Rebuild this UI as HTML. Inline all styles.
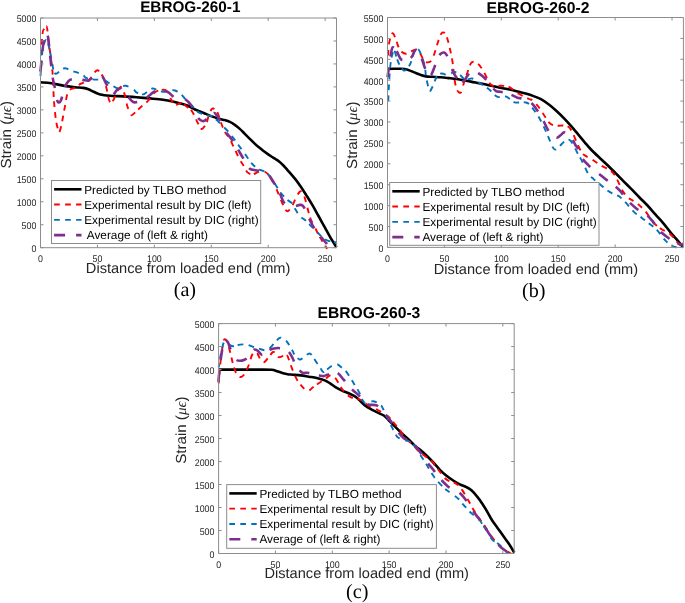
<!DOCTYPE html>
<html><head><meta charset="utf-8"><style>html,body{margin:0;padding:0;background:#fff;}svg{display:block;will-change:transform;text-rendering:geometricPrecision;}</style></head>
<body><svg width="685" height="603" viewBox="0 0 685 603">
<rect width="685" height="603" fill="#fff"/>
<clipPath id="clipa"><rect x="38.5" y="18.0" width="300.0" height="232.7"/></clipPath>
<g clip-path="url(#clipa)" fill="none" stroke-linejoin="round">
<path id="ak" d="M40.70,82.30 C42.47,82.45 47.33,82.60 51.30,83.20 C55.27,83.80 60.53,85.23 64.50,85.90 C68.47,86.57 72.00,86.87 75.10,87.20 C78.20,87.53 80.88,87.57 83.10,87.90 C85.32,88.23 86.63,88.55 88.40,89.20 C90.17,89.85 91.72,90.92 93.70,91.80 C95.68,92.68 97.58,93.83 100.30,94.50 C103.02,95.17 106.17,95.48 110.00,95.80 C113.83,96.12 118.88,96.15 123.30,96.40 C127.72,96.65 132.08,96.97 136.50,97.30 C140.92,97.63 145.38,98.00 149.80,98.40 C154.22,98.80 159.02,99.15 163.00,99.70 C166.98,100.25 170.60,101.03 173.70,101.70 C176.80,102.37 179.22,103.02 181.60,103.70 C183.98,104.38 185.77,104.83 188.00,105.80 C190.23,106.77 193.00,108.57 195.00,109.50 C197.00,110.43 198.17,110.67 200.00,111.40 C201.83,112.13 204.02,113.07 206.00,113.90 C207.98,114.73 209.92,115.65 211.90,116.40 C213.88,117.15 215.90,117.82 217.90,118.40 C219.90,118.98 221.90,119.32 223.90,119.90 C225.90,120.48 228.08,121.07 229.90,121.90 C231.72,122.73 233.15,123.73 234.80,124.90 C236.45,126.07 238.13,127.42 239.80,128.90 C241.47,130.38 243.13,132.15 244.80,133.80 C246.47,135.45 248.15,137.17 249.80,138.80 C251.45,140.43 253.08,142.10 254.70,143.60 C256.32,145.10 258.03,146.57 259.50,147.80 C260.97,149.03 262.17,149.98 263.50,151.00 C264.83,152.02 266.18,152.98 267.50,153.90 C268.82,154.82 270.08,155.65 271.40,156.50 C272.72,157.35 274.07,158.12 275.40,159.00 C276.73,159.88 278.07,160.72 279.40,161.80 C280.73,162.88 282.08,164.17 283.40,165.50 C284.72,166.83 285.32,167.53 287.30,169.80 C289.28,172.07 293.02,176.23 295.30,179.10 C297.58,181.97 299.20,184.37 301.00,187.00 C302.80,189.63 304.22,191.92 306.10,194.90 C307.98,197.88 310.23,201.38 312.30,204.90 C314.37,208.42 316.43,212.28 318.50,216.00 C320.57,219.72 322.63,223.47 324.70,227.20 C326.77,230.93 328.92,235.05 330.90,238.40 C332.88,241.75 335.65,245.82 336.60,247.30" stroke="#000000" stroke-width="2.60"/>
<path id="ar" d="M40.60,60.00 C40.92,55.65 41.93,39.07 42.50,33.90 C43.07,28.73 43.33,30.25 44.00,29.00 C44.67,27.75 45.92,26.07 46.50,26.40 C47.08,26.73 47.08,27.90 47.50,31.00 C47.92,34.10 48.52,41.20 49.00,45.00 C49.48,48.80 49.90,50.02 50.40,53.80 C50.90,57.58 51.60,64.00 52.00,67.70 C52.40,71.40 52.48,70.65 52.80,76.00 C53.12,81.35 53.38,92.52 53.90,99.80 C54.42,107.08 55.23,114.83 55.90,119.70 C56.57,124.57 57.35,126.90 57.90,129.00 C58.45,131.10 58.65,132.75 59.20,132.30 C59.75,131.85 60.53,129.07 61.20,126.30 C61.87,123.53 62.53,119.23 63.20,115.70 C63.87,112.17 64.53,108.63 65.20,105.10 C65.87,101.57 66.32,97.12 67.20,94.50 C68.08,91.88 69.28,90.50 70.50,89.40 C71.72,88.30 72.83,88.82 74.50,87.90 C76.17,86.98 77.97,85.35 80.50,83.90 C83.03,82.45 87.50,80.97 89.70,79.20 C91.90,77.43 92.37,74.78 93.70,73.30 C95.03,71.82 96.37,70.08 97.70,70.30 C99.03,70.52 100.60,73.00 101.70,74.60 C102.80,76.20 103.42,77.25 104.30,79.90 C105.18,82.55 106.22,87.18 107.00,90.50 C107.78,93.82 108.33,97.80 109.00,99.80 C109.67,101.80 110.23,102.50 111.00,102.50 C111.77,102.50 112.72,101.35 113.60,99.80 C114.48,98.25 115.35,95.08 116.30,93.20 C117.25,91.32 118.47,89.52 119.30,88.50 C120.13,87.48 120.42,86.12 121.30,87.10 C122.18,88.08 123.62,91.30 124.60,94.40 C125.58,97.50 126.20,102.48 127.20,105.70 C128.20,108.92 129.72,112.20 130.60,113.70 C131.48,115.20 130.97,115.65 132.50,114.70 C134.03,113.75 137.25,110.27 139.80,108.00 C142.35,105.73 145.25,103.73 147.80,101.10 C150.35,98.47 152.57,94.08 155.10,92.20 C157.63,90.32 161.02,89.98 163.00,89.80 C164.98,89.62 165.67,89.55 167.00,91.10 C168.33,92.65 169.67,96.78 171.00,99.10 C172.33,101.42 173.67,104.27 175.00,105.00 C176.33,105.73 177.83,103.83 179.00,103.50 C180.17,103.17 180.83,102.58 182.00,103.00 C183.17,103.42 184.35,104.65 186.00,106.00 C187.65,107.35 190.25,108.92 191.90,111.10 C193.55,113.28 194.78,116.88 195.90,119.10 C197.02,121.32 197.60,122.75 198.60,124.40 C199.60,126.05 200.58,129.23 201.90,129.00 C203.22,128.77 205.40,125.10 206.50,123.00 C207.60,120.90 207.72,118.60 208.50,116.40 C209.28,114.20 210.42,111.12 211.20,109.80 C211.98,108.48 212.32,108.38 213.20,108.50 C214.08,108.62 215.62,109.40 216.50,110.50 C217.38,111.60 217.73,113.02 218.50,115.10 C219.27,117.18 220.00,120.13 221.10,123.00 C222.20,125.87 223.77,129.87 225.10,132.30 C226.43,134.73 227.88,135.60 229.10,137.60 C230.32,139.60 231.30,142.03 232.40,144.30 C233.50,146.57 234.50,148.72 235.70,151.20 C236.90,153.68 238.28,156.77 239.60,159.20 C240.92,161.63 242.28,163.60 243.60,165.80 C244.92,168.00 245.95,170.97 247.50,172.40 C249.05,173.83 251.15,174.47 252.90,174.40 C254.65,174.33 256.23,172.55 258.00,172.00 C259.77,171.45 261.70,170.58 263.50,171.10 C265.30,171.62 267.27,173.33 268.80,175.10 C270.33,176.87 271.38,179.27 272.70,181.70 C274.02,184.13 275.40,186.82 276.70,189.70 C278.00,192.58 279.13,195.85 280.50,199.00 C281.87,202.15 283.65,206.58 284.90,208.60 C286.15,210.62 286.75,211.62 288.00,211.10 C289.25,210.58 291.05,207.78 292.40,205.50 C293.75,203.22 294.92,199.65 296.10,197.40 C297.28,195.15 298.60,192.98 299.50,192.00 C300.40,191.02 300.72,190.82 301.50,191.50 C302.28,192.18 303.33,193.87 304.20,196.10 C305.07,198.33 305.97,202.20 306.70,204.90 C307.43,207.60 307.88,209.82 308.60,212.30 C309.32,214.78 309.97,217.32 311.00,219.80 C312.03,222.28 313.55,224.72 314.80,227.20 C316.05,229.68 317.27,232.42 318.50,234.70 C319.73,236.98 320.95,238.83 322.20,240.90 C323.45,242.97 325.20,245.75 326.00,247.10 C326.80,248.45 326.83,248.68 327.00,249.00" stroke="#ff0000" stroke-width="1.90" stroke-dasharray="5.7 5.0 5.7 5.0 5.7 3.0 5.7 5.3 5.7 5.3 5.7 5.1 5.7 5.1 5.7 5.2 5.7 5.5 5.7 4.3 5.7 5.1 5.7 5.1 5.7 5.1 5.7 5.1 5.7 5.1 5.7 5.1 5.7 5.3 5.7 4.7 5.7 3.5 5.7 5.7 5.7 3.9 5.7 6.7 5.7 5.2 5.7 3.2 5.7 5.9 5.7 5.9 5.7 5.4 5.7 6.3 5.7 4.0 5.7 5.1 5.7 5.6 5.7 3.5 5.7 7.5 5.7 4.3 5.7 3.0 5.7 3.0 5.7 5.0 5.7 4.6 5.7 4.2 5.7 5.7 5.7 4.3 5.7 5.1 5.7 4.7 5.7 5.5 5.7 4.9 5.7 5.8 5.7 5.1 5.7 3.6 5.7 5.7 5.7 3.0 5.7 7.3 5.7 5.7 5.7 5.0 5.7 5.2 5.7 6.0 5.7 5.6 5.7 5.8 5.7 4.6 5.7 6.5 5.7 3.6 5.7 5.0 5.7 1000.0" stroke-dashoffset="-4.65"/>
<path id="ab" d="M40.50,76.00 C40.75,72.47 41.42,60.15 42.00,54.80 C42.58,49.45 43.33,46.38 44.00,43.90 C44.67,41.42 45.33,40.07 46.00,39.90 C46.67,39.73 47.33,40.92 48.00,42.90 C48.67,44.88 49.33,48.65 50.00,51.80 C50.67,54.95 51.43,58.82 52.00,61.80 C52.57,64.78 52.83,67.72 53.40,69.70 C53.97,71.68 54.65,73.20 55.40,73.70 C56.15,74.20 56.98,73.37 57.90,72.70 C58.82,72.03 59.73,70.45 60.90,69.70 C62.07,68.95 63.73,68.28 64.90,68.20 C66.07,68.12 66.58,68.70 67.90,69.20 C69.22,69.70 71.15,70.62 72.80,71.20 C74.45,71.78 76.13,72.12 77.80,72.70 C79.47,73.28 81.47,73.83 82.80,74.70 C84.13,75.57 84.43,77.15 85.80,77.90 C87.17,78.65 89.02,78.92 91.00,79.20 C92.98,79.48 95.87,79.63 97.70,79.60 C99.53,79.57 100.23,78.50 102.00,79.00 C103.77,79.50 106.52,81.47 108.30,82.60 C110.08,83.73 111.08,84.82 112.70,85.80 C114.32,86.78 116.62,88.30 118.00,88.50 C119.38,88.70 119.68,87.45 121.00,87.00 C122.32,86.55 123.75,85.33 125.90,85.80 C128.05,86.27 132.13,88.70 133.90,89.80 C135.67,90.90 134.95,91.63 136.50,92.40 C138.05,93.17 141.28,94.63 143.20,94.40 C145.12,94.17 146.47,91.98 148.00,91.00 C149.53,90.02 151.22,88.82 152.40,88.50 C153.58,88.18 153.33,88.55 155.10,89.10 C156.87,89.65 160.57,91.57 163.00,91.80 C165.43,92.03 167.70,90.72 169.70,90.50 C171.70,90.28 173.07,89.83 175.00,90.50 C176.93,91.17 179.37,92.83 181.30,94.50 C183.23,96.17 184.60,98.40 186.60,100.50 C188.60,102.60 191.30,105.12 193.30,107.10 C195.30,109.08 196.40,111.07 198.60,112.40 C200.80,113.73 204.30,114.43 206.50,115.10 C208.70,115.77 210.03,115.52 211.80,116.40 C213.57,117.28 215.33,118.85 217.10,120.40 C218.87,121.95 220.63,123.93 222.40,125.70 C224.17,127.47 225.93,129.02 227.70,131.00 C229.47,132.98 231.22,135.27 233.00,137.60 C234.78,139.93 236.42,142.28 238.40,145.00 C240.38,147.72 242.72,150.87 244.90,153.90 C247.08,156.93 249.28,160.67 251.50,163.20 C253.72,165.73 256.20,167.78 258.20,169.10 C260.20,170.42 261.73,170.10 263.50,171.10 C265.27,172.10 266.82,172.88 268.80,175.10 C270.78,177.32 273.53,181.58 275.40,184.40 C277.27,187.22 278.00,189.42 280.00,192.00 C282.00,194.58 285.33,197.97 287.40,199.90 C289.47,201.83 291.15,202.15 292.40,203.60 C293.65,205.05 293.65,206.53 294.90,208.60 C296.15,210.67 298.03,213.93 299.90,216.00 C301.77,218.07 304.25,219.33 306.10,221.00 C307.95,222.67 309.13,224.13 311.00,226.00 C312.87,227.87 315.43,230.33 317.30,232.20 C319.17,234.07 320.33,235.75 322.20,237.20 C324.07,238.65 326.12,240.02 328.50,240.90 C330.88,241.78 335.17,242.23 336.50,242.50" stroke="#0072bd" stroke-width="1.90" stroke-dasharray="5.7 5.1 5.7 5.1 5.7 5.1 5.7 4.0 5.7 3.4 5.7 5.9 5.7 3.6 5.7 4.9 5.7 5.3 5.7 5.4 5.7 4.4 5.7 6.8 5.7 5.1 5.7 5.0 5.7 6.0 5.7 3.8 5.7 5.3 5.7 4.5 5.7 6.0 5.7 5.1 5.7 6.1 5.7 5.0 5.7 5.0 5.7 4.3 5.7 5.9 5.7 5.8 5.7 5.0 5.7 5.8 5.7 5.0 5.7 4.5 5.7 4.6 5.7 5.7 5.7 5.0 5.7 4.9 5.7 5.6 5.7 5.6 5.7 4.6 5.7 6.2 5.7 4.4 5.7 3.5 5.7 1000.0" stroke-dashoffset="0.85"/>
<path id="ap" d="M40.40,72.00 C40.57,70.30 40.97,66.13 41.40,61.80 C41.83,57.47 42.57,49.55 43.00,46.00 C43.43,42.45 43.62,42.03 44.00,40.50 C44.38,38.97 44.80,37.73 45.30,36.80 C45.80,35.87 46.55,34.87 47.00,34.90 C47.45,34.93 47.67,35.33 48.00,37.00 C48.33,38.67 48.57,41.07 49.00,44.90 C49.43,48.73 50.00,54.62 50.60,60.00 C51.20,65.38 51.93,72.78 52.60,77.20 C53.27,81.62 53.93,82.95 54.60,86.50 C55.27,90.05 55.93,95.83 56.60,98.50 C57.27,101.17 57.83,102.28 58.60,102.50 C59.37,102.72 60.22,102.23 61.20,99.80 C62.18,97.37 63.28,91.00 64.50,87.90 C65.72,84.80 67.17,82.65 68.50,81.20 C69.83,79.75 70.92,79.57 72.50,79.20 C74.08,78.83 76.23,78.88 78.00,79.00 C79.77,79.12 81.37,79.63 83.10,79.90 C84.83,80.17 87.08,80.82 88.40,80.60 C89.72,80.38 89.73,79.53 91.00,78.60 C92.27,77.67 94.22,75.45 96.00,75.00 C97.78,74.55 100.32,75.08 101.70,75.90 C103.08,76.72 103.42,78.35 104.30,79.90 C105.18,81.45 105.67,82.77 107.00,85.20 C108.33,87.63 110.63,93.70 112.30,94.50 C113.97,95.30 115.62,91.05 117.00,90.00 C118.38,88.95 119.43,87.87 120.60,88.20 C121.77,88.53 122.67,90.52 124.00,92.00 C125.33,93.48 127.40,95.70 128.60,97.10 C129.80,98.50 130.22,99.52 131.20,100.40 C132.18,101.28 133.03,102.30 134.50,102.40 C135.97,102.50 138.00,101.78 140.00,101.00 C142.00,100.22 144.83,98.70 146.50,97.70 C148.17,96.70 148.78,95.98 150.00,95.00 C151.22,94.02 152.47,92.55 153.80,91.80 C155.13,91.05 156.47,90.72 158.00,90.50 C159.53,90.28 161.27,90.18 163.00,90.50 C164.73,90.82 166.85,91.52 168.40,92.40 C169.95,93.28 171.03,94.70 172.30,95.80 C173.57,96.90 174.72,98.47 176.00,99.00 C177.28,99.53 178.67,99.08 180.00,99.00 C181.33,98.92 182.23,97.58 184.00,98.50 C185.77,99.42 188.40,101.52 190.60,104.50 C192.80,107.48 195.65,113.87 197.20,116.40 C198.75,118.93 198.78,118.92 199.90,119.70 C201.02,120.48 202.55,121.38 203.90,121.10 C205.25,120.82 206.35,119.33 208.00,118.00 C209.65,116.67 212.28,113.47 213.80,113.10 C215.32,112.73 216.10,114.58 217.10,115.80 C218.10,117.02 218.47,117.87 219.80,120.40 C221.13,122.93 223.33,128.13 225.10,131.00 C226.87,133.87 228.75,135.43 230.40,137.60 C232.05,139.77 233.68,141.95 235.00,144.00 C236.32,146.05 237.10,147.82 238.30,149.90 C239.50,151.98 240.43,153.52 242.20,156.50 C243.97,159.48 247.12,165.58 248.90,167.80 C250.68,170.02 251.58,169.35 252.90,169.80 C254.22,170.25 255.28,170.22 256.80,170.50 C258.32,170.78 260.00,170.73 262.00,171.50 C264.00,172.27 266.78,173.17 268.80,175.10 C270.82,177.03 272.33,180.23 274.10,183.10 C275.87,185.97 277.85,189.22 279.40,192.30 C280.95,195.38 281.97,199.40 283.40,201.60 C284.83,203.80 286.08,204.75 288.00,205.50 C289.92,206.25 292.92,206.20 294.90,206.10 C296.88,206.00 298.45,204.80 299.90,204.90 C301.35,205.00 302.15,204.63 303.60,206.70 C305.05,208.77 307.15,214.28 308.60,217.30 C310.05,220.32 310.90,222.35 312.30,224.80 C313.70,227.25 315.35,229.73 317.00,232.00 C318.65,234.27 320.70,236.60 322.20,238.40 C323.70,240.20 325.20,241.87 326.00,242.80 C326.80,243.73 326.83,243.80 327.00,244.00" stroke="#7e2f8e" stroke-width="2.60" stroke-dasharray="10.8 9.8 10.8 7.6 10.8 9.1 10.8 11.3 10.8 11.6 10.8 10.0 10.8 10.5 10.8 11.5 10.8 11.2 10.8 10.8 10.8 10.4 10.8 9.5 10.8 13.1 10.8 11.7 10.8 8.9 10.8 13.0 10.8 10.0 10.8 10.6 10.8 11.2 10.8 10.2 10.8 11.9 10.8 11.0 10.8 10.7 10.8 1000.0" stroke-dashoffset="-0.50"/>
</g>
<g stroke="#8d8d8d" stroke-width="1" fill="none">
<path d="M40.5,18.0 H336.5 V247.7 H40.5 Z"/>
<path d="M40.50,247.7 v-3 M40.50,18.0 v3"/>
<path d="M97.42,247.7 v-3 M97.42,18.0 v3"/>
<path d="M154.35,247.7 v-3 M154.35,18.0 v3"/>
<path d="M211.27,247.7 v-3 M211.27,18.0 v3"/>
<path d="M268.19,247.7 v-3 M268.19,18.0 v3"/>
<path d="M325.12,247.7 v-3 M325.12,18.0 v3"/>
<path d="M40.5,247.70 h3 M336.5,247.70 h-3"/>
<path d="M40.5,224.73 h3 M336.5,224.73 h-3"/>
<path d="M40.5,201.76 h3 M336.5,201.76 h-3"/>
<path d="M40.5,178.79 h3 M336.5,178.79 h-3"/>
<path d="M40.5,155.82 h3 M336.5,155.82 h-3"/>
<path d="M40.5,132.85 h3 M336.5,132.85 h-3"/>
<path d="M40.5,109.88 h3 M336.5,109.88 h-3"/>
<path d="M40.5,86.91 h3 M336.5,86.91 h-3"/>
<path d="M40.5,63.94 h3 M336.5,63.94 h-3"/>
<path d="M40.5,40.97 h3 M336.5,40.97 h-3"/>
<path d="M40.5,18.00 h3 M336.5,18.00 h-3"/>
</g>
<g font-family="Liberation Sans, sans-serif" font-size="9.7" fill="#262626">
<text transform="translate(40.50,262.10) scale(0.91,1)" text-anchor="middle">0</text>
<text transform="translate(97.42,262.10) scale(0.91,1)" text-anchor="middle">50</text>
<text transform="translate(154.35,262.10) scale(0.91,1)" text-anchor="middle">100</text>
<text transform="translate(211.27,262.10) scale(0.91,1)" text-anchor="middle">150</text>
<text transform="translate(268.19,262.10) scale(0.91,1)" text-anchor="middle">200</text>
<text transform="translate(325.12,262.10) scale(0.91,1)" text-anchor="middle">250</text>
<text transform="translate(36.30,252.00) scale(0.91,1)" text-anchor="end">0</text>
<text transform="translate(36.30,229.03) scale(0.91,1)" text-anchor="end">500</text>
<text transform="translate(36.30,206.06) scale(0.91,1)" text-anchor="end">1000</text>
<text transform="translate(36.30,183.09) scale(0.91,1)" text-anchor="end">1500</text>
<text transform="translate(36.30,160.12) scale(0.91,1)" text-anchor="end">2000</text>
<text transform="translate(36.30,137.15) scale(0.91,1)" text-anchor="end">2500</text>
<text transform="translate(36.30,114.18) scale(0.91,1)" text-anchor="end">3000</text>
<text transform="translate(36.30,91.21) scale(0.91,1)" text-anchor="end">3500</text>
<text transform="translate(36.30,68.24) scale(0.91,1)" text-anchor="end">4000</text>
<text transform="translate(36.30,45.27) scale(0.91,1)" text-anchor="end">4500</text>
<text transform="translate(36.30,22.30) scale(0.91,1)" text-anchor="end">5000</text>
</g>
<text x="190.3" y="11.7" font-family="Liberation Sans, sans-serif" font-size="15.3" font-weight="bold" text-anchor="middle" fill="#000">EBROG-260-1</text>
<text x="188.1" y="273.4" font-family="Liberation Sans, sans-serif" font-size="14.5" text-anchor="middle" fill="#262626" textLength="204.5" lengthAdjust="spacingAndGlyphs">Distance from loaded end (mm)</text>
<text transform="translate(11.2,134.8) rotate(-90)" font-family="Liberation Sans, sans-serif" font-size="14.6" text-anchor="middle" fill="#262626" textLength="67.5" lengthAdjust="spacingAndGlyphs">Strain (<tspan font-family="Liberation Serif, serif" font-style="italic">μϵ</tspan>)</text>
<text x="184.9" y="295.7" font-family="Liberation Serif, serif" font-size="20.2" text-anchor="middle" fill="#000">(a)</text>
<clipPath id="clipb"><rect x="385.5" y="17.5" width="299.9" height="232.9"/></clipPath>
<g clip-path="url(#clipb)" fill="none" stroke-linejoin="round">
<path id="bk" d="M387.80,69.10 C388.67,69.05 390.82,68.85 393.00,68.80 C395.18,68.75 398.48,68.65 400.90,68.80 C403.32,68.95 405.28,69.10 407.50,69.70 C409.72,70.30 411.98,71.52 414.20,72.40 C416.42,73.28 418.82,74.33 420.80,75.00 C422.78,75.67 424.12,76.10 426.10,76.40 C428.08,76.70 430.27,76.65 432.70,76.80 C435.13,76.95 438.03,77.08 440.70,77.30 C443.37,77.52 446.05,77.82 448.70,78.10 C451.35,78.38 454.22,78.65 456.60,79.00 C458.98,79.35 460.62,79.77 463.00,80.20 C465.38,80.63 468.25,81.10 470.90,81.60 C473.55,82.10 476.25,82.68 478.90,83.20 C481.55,83.72 484.15,84.15 486.80,84.70 C489.45,85.25 492.15,85.92 494.80,86.50 C497.45,87.08 500.05,87.65 502.70,88.20 C505.35,88.75 508.03,89.20 510.70,89.80 C513.37,90.40 516.05,91.13 518.70,91.80 C521.35,92.47 524.22,93.12 526.60,93.80 C528.98,94.48 530.62,95.00 533.00,95.90 C535.38,96.80 538.25,97.77 540.90,99.20 C543.55,100.63 546.25,102.50 548.90,104.50 C551.55,106.50 554.15,108.77 556.80,111.20 C559.45,113.63 562.37,116.57 564.80,119.10 C567.23,121.63 569.18,123.85 571.40,126.40 C573.62,128.95 575.88,131.75 578.10,134.40 C580.32,137.05 582.55,139.78 584.70,142.30 C586.85,144.82 588.62,147.00 591.00,149.50 C593.38,152.00 596.37,154.80 599.00,157.30 C601.63,159.80 604.17,161.98 606.80,164.50 C609.43,167.02 612.15,169.75 614.80,172.40 C617.45,175.05 620.05,177.73 622.70,180.40 C625.35,183.07 627.90,185.55 630.70,188.40 C633.50,191.25 636.70,194.65 639.50,197.50 C642.30,200.35 644.78,202.60 647.50,205.50 C650.22,208.40 653.08,211.85 655.80,214.90 C658.52,217.95 661.15,220.65 663.80,223.80 C666.45,226.95 669.38,230.98 671.70,233.80 C674.02,236.62 675.85,238.50 677.70,240.70 C679.55,242.90 681.95,245.95 682.80,247.00" stroke="#000000" stroke-width="2.60"/>
<path id="br" d="M388.00,55.50 C388.17,53.58 388.50,47.27 389.00,44.00 C389.50,40.73 390.33,37.68 391.00,35.90 C391.67,34.12 392.23,32.85 393.00,33.30 C393.77,33.75 394.72,36.40 395.60,38.60 C396.48,40.80 397.30,44.30 398.30,46.50 C399.30,48.70 400.28,50.58 401.60,51.80 C402.92,53.02 404.55,53.90 406.20,53.80 C407.85,53.70 409.95,51.87 411.50,51.20 C413.05,50.53 414.42,49.83 415.50,49.80 C416.58,49.77 417.12,50.22 418.00,51.00 C418.88,51.78 419.78,52.82 420.80,54.50 C421.82,56.18 423.00,59.78 424.10,61.10 C425.20,62.42 426.28,62.40 427.40,62.40 C428.52,62.40 429.68,62.42 430.80,61.10 C431.92,59.78 433.00,57.37 434.10,54.50 C435.20,51.63 436.30,47.22 437.40,43.90 C438.50,40.58 439.60,36.48 440.70,34.60 C441.80,32.72 442.90,31.93 444.00,32.60 C445.10,33.27 446.30,35.83 447.30,38.60 C448.30,41.37 449.12,45.23 450.00,49.20 C450.88,53.17 451.83,57.32 452.60,62.40 C453.37,67.48 453.93,75.27 454.60,79.70 C455.27,84.13 455.87,86.88 456.60,89.00 C457.33,91.12 458.22,91.90 459.00,92.40 C459.78,92.90 460.63,93.10 461.30,92.00 C461.97,90.90 462.28,88.15 463.00,85.80 C463.72,83.45 464.72,80.55 465.60,77.90 C466.48,75.25 467.42,72.33 468.30,69.90 C469.18,67.47 470.02,64.67 470.90,63.30 C471.78,61.93 472.50,61.70 473.60,61.70 C474.70,61.70 476.28,62.38 477.50,63.30 C478.72,64.22 479.78,65.67 480.90,67.20 C482.02,68.73 483.10,70.50 484.20,72.50 C485.30,74.50 486.40,77.20 487.50,79.20 C488.60,81.20 489.58,83.28 490.80,84.50 C492.02,85.72 493.25,86.28 494.80,86.50 C496.35,86.72 498.40,85.88 500.10,85.80 C501.80,85.72 503.45,85.78 505.00,86.00 C506.55,86.22 508.00,86.47 509.40,87.10 C510.80,87.73 511.85,88.68 513.40,89.80 C514.95,90.92 516.93,92.70 518.70,93.80 C520.47,94.90 522.28,95.53 524.00,96.40 C525.72,97.27 527.50,98.32 529.00,99.00 C530.50,99.68 531.45,99.25 533.00,100.50 C534.55,101.75 536.53,104.17 538.30,106.50 C540.07,108.83 541.83,111.85 543.60,114.50 C545.37,117.15 547.35,120.63 548.90,122.40 C550.45,124.17 551.35,124.53 552.90,125.10 C554.45,125.67 556.52,125.73 558.20,125.80 C559.88,125.87 561.23,125.28 563.00,125.50 C564.77,125.72 567.18,125.83 568.80,127.10 C570.42,128.37 571.38,130.57 572.70,133.10 C574.02,135.63 575.48,139.57 576.70,142.30 C577.92,145.03 579.03,147.63 580.00,149.50 C580.97,151.37 581.57,152.43 582.50,153.50 C583.43,154.57 583.75,154.73 585.60,155.90 C587.45,157.07 590.95,158.85 593.60,160.50 C596.25,162.15 598.85,164.25 601.50,165.80 C604.15,167.35 607.28,168.25 609.50,169.80 C611.72,171.35 613.25,172.88 614.80,175.10 C616.35,177.32 617.48,180.45 618.80,183.10 C620.12,185.75 621.17,188.58 622.70,191.00 C624.23,193.42 626.47,196.10 628.00,197.60 C629.53,199.10 630.08,198.78 631.90,200.00 C633.72,201.22 636.57,202.92 638.90,204.90 C641.23,206.88 643.58,209.08 645.90,211.90 C648.22,214.72 650.32,218.98 652.80,221.80 C655.28,224.62 657.97,226.80 660.80,228.80 C663.63,230.80 666.98,231.48 669.80,233.80 C672.62,236.12 675.83,240.67 677.70,242.70 C679.57,244.73 680.12,245.22 681.00,246.00 C681.88,246.78 682.67,247.17 683.00,247.40" stroke="#ff0000" stroke-width="1.90" stroke-dasharray="5.7 5.4 5.7 5.3 5.7 5.0 5.7 5.3 5.7 4.9 5.7 5.5 5.7 4.8 5.7 5.7 5.7 5.1 5.7 5.4 5.7 4.4 5.7 5.2 5.7 5.2 5.7 5.0 5.7 5.0 5.7 5.1 5.7 6.5 5.7 5.0 5.7 4.8 5.7 5.2 5.7 5.2 5.7 5.2 5.7 4.9 5.7 4.5 5.7 5.4 5.7 5.0 5.7 5.6 5.7 5.2 5.7 4.9 5.7 4.7 5.7 4.3 5.7 5.3 5.7 5.1 5.7 4.5 5.7 5.5 5.7 5.3 5.7 4.8 5.7 5.2 5.7 5.3 5.7 5.3 5.7 5.2 5.7 5.1 5.7 6.8 5.7 3.7 5.7 5.2 5.7 4.7 5.7 1000.0" stroke-dashoffset="0.05"/>
<path id="bb" d="M388.20,101.00 C388.33,98.28 388.65,90.53 389.00,84.70 C389.35,78.87 389.75,71.03 390.30,66.00 C390.85,60.97 391.63,57.08 392.30,54.50 C392.97,51.92 393.53,49.83 394.30,50.50 C395.07,51.17 396.02,56.07 396.90,58.50 C397.78,60.93 398.48,63.12 399.60,65.10 C400.72,67.08 402.37,69.75 403.60,70.40 C404.83,71.05 405.78,70.33 407.00,69.00 C408.22,67.67 409.70,65.27 410.90,62.40 C412.10,59.53 412.98,54.00 414.20,51.80 C415.42,49.60 416.98,48.53 418.20,49.20 C419.42,49.87 420.40,52.93 421.50,55.80 C422.60,58.67 424.03,62.87 424.80,66.40 C425.57,69.93 425.43,73.23 426.10,77.00 C426.77,80.77 428.13,86.67 428.80,89.00 C429.47,91.33 429.45,91.45 430.10,91.00 C430.75,90.55 431.82,88.18 432.70,86.30 C433.58,84.42 434.52,81.68 435.40,79.70 C436.28,77.72 436.67,75.40 438.00,74.40 C439.33,73.40 441.85,73.48 443.40,73.70 C444.95,73.92 446.03,75.73 447.30,75.70 C448.57,75.67 449.72,74.12 451.00,73.50 C452.28,72.88 453.45,71.72 455.00,72.00 C456.55,72.28 458.75,74.00 460.30,75.20 C461.85,76.40 462.97,78.53 464.30,79.20 C465.63,79.87 466.98,79.32 468.30,79.20 C469.62,79.08 470.67,78.07 472.20,78.50 C473.73,78.93 475.72,80.70 477.50,81.80 C479.28,82.90 480.90,83.77 482.90,85.10 C484.90,86.43 487.52,88.13 489.50,89.80 C491.48,91.47 493.25,93.88 494.80,95.10 C496.35,96.32 497.03,96.88 498.80,97.10 C500.57,97.32 503.53,96.08 505.40,96.40 C507.27,96.72 508.45,98.00 510.00,99.00 C511.55,100.00 513.03,101.83 514.70,102.40 C516.37,102.97 518.23,102.40 520.00,102.40 C521.77,102.40 523.80,102.13 525.30,102.40 C526.80,102.67 527.50,102.65 529.00,104.00 C530.50,105.35 532.53,108.08 534.30,110.50 C536.07,112.92 537.83,115.40 539.60,118.50 C541.37,121.60 543.35,125.78 544.90,129.10 C546.45,132.42 547.57,135.32 548.90,138.40 C550.23,141.48 551.80,145.73 552.90,147.60 C554.00,149.47 554.40,149.82 555.50,149.60 C556.60,149.38 558.17,147.52 559.50,146.30 C560.83,145.08 562.18,143.40 563.50,142.30 C564.82,141.20 566.18,139.92 567.40,139.70 C568.62,139.48 569.68,139.90 570.80,141.00 C571.92,142.10 572.88,144.08 574.10,146.30 C575.32,148.52 577.07,152.37 578.10,154.30 C579.13,156.23 579.27,155.98 580.30,157.90 C581.33,159.82 582.97,163.15 584.30,165.80 C585.63,168.45 586.75,171.58 588.30,173.80 C589.85,176.02 591.62,177.33 593.60,179.10 C595.58,180.87 597.77,182.42 600.20,184.40 C602.63,186.38 605.55,189.23 608.20,191.00 C610.85,192.77 614.13,194.00 616.10,195.00 C618.07,196.00 618.35,195.68 620.00,197.00 C621.65,198.32 623.68,200.42 626.00,202.90 C628.32,205.38 631.25,209.40 633.90,211.90 C636.55,214.40 639.38,215.97 641.90,217.90 C644.42,219.83 646.52,221.52 649.00,223.50 C651.48,225.48 654.17,227.08 656.80,229.80 C659.43,232.52 662.60,237.35 664.80,239.80 C667.00,242.25 668.30,243.30 670.00,244.50 C671.70,245.70 672.83,246.52 675.00,247.00 C677.17,247.48 681.67,247.33 683.00,247.40" stroke="#0072bd" stroke-width="1.90" stroke-dasharray="5.7 5.1 5.7 5.3 5.7 5.4 5.7 4.7 5.7 3.1 5.7 3.1 5.7 4.5 5.7 4.3 5.7 4.6 5.7 4.6 5.7 5.3 5.7 5.3 5.7 5.2 5.7 5.3 5.7 5.2 5.7 4.5 5.7 6.4 5.7 4.4 5.7 3.8 5.7 5.7 5.7 4.8 5.7 5.0 5.7 5.0 5.7 4.6 5.7 4.6 5.7 4.9 5.7 5.3 5.7 5.2 5.7 5.1 5.7 5.3 5.7 5.2 5.7 5.0 5.7 5.8 5.7 4.5 5.7 5.7 5.7 5.2 5.7 5.0 5.7 4.9 5.7 5.0 5.7 5.1 5.7 5.3 5.7 4.6 5.7 4.9 5.7 4.5 5.7 5.3 5.7 5.0 5.7 5.1 5.7 1000.0" stroke-dashoffset="-0.05"/>
<path id="bp" d="M387.60,77.20 C387.83,75.40 388.43,70.40 389.00,66.40 C389.57,62.40 390.45,56.28 391.00,53.20 C391.55,50.12 391.80,48.77 392.30,47.90 C392.80,47.03 393.23,47.35 394.00,48.00 C394.77,48.65 395.97,50.28 396.90,51.80 C397.83,53.32 398.82,55.77 399.60,57.10 C400.38,58.43 400.53,59.32 401.60,59.80 C402.67,60.28 404.35,60.45 406.00,60.00 C407.65,59.55 410.13,58.47 411.50,57.10 C412.87,55.73 413.42,53.02 414.20,51.80 C414.98,50.58 415.40,49.60 416.20,49.80 C417.00,50.00 418.02,51.33 419.00,53.00 C419.98,54.67 421.13,57.35 422.10,59.80 C423.07,62.25 423.68,65.27 424.80,67.70 C425.92,70.13 427.70,73.28 428.80,74.40 C429.90,75.52 430.42,75.73 431.40,74.40 C432.38,73.07 433.60,69.13 434.70,66.40 C435.80,63.67 437.00,60.10 438.00,58.00 C439.00,55.90 439.70,54.72 440.70,53.80 C441.70,52.88 443.00,52.28 444.00,52.50 C445.00,52.72 445.78,53.52 446.70,55.10 C447.62,56.68 448.52,59.45 449.50,62.00 C450.48,64.55 451.63,68.12 452.60,70.40 C453.57,72.68 454.23,74.10 455.30,75.70 C456.37,77.30 457.62,79.08 459.00,80.00 C460.38,80.92 462.28,81.78 463.60,81.20 C464.92,80.62 465.83,77.95 466.90,76.50 C467.97,75.05 468.82,73.42 470.00,72.50 C471.18,71.58 472.63,70.88 474.00,71.00 C475.37,71.12 476.72,72.28 478.20,73.20 C479.68,74.12 481.47,75.28 482.90,76.50 C484.33,77.72 485.27,78.73 486.80,80.50 C488.33,82.27 490.55,85.33 492.10,87.10 C493.65,88.87 494.77,90.32 496.10,91.10 C497.43,91.88 498.45,91.48 500.10,91.80 C501.75,92.12 504.02,92.45 506.00,93.00 C507.98,93.55 510.12,94.32 512.00,95.10 C513.88,95.88 515.75,97.15 517.30,97.70 C518.85,98.25 519.85,98.02 521.30,98.40 C522.75,98.78 524.28,99.20 526.00,100.00 C527.72,100.80 530.00,101.88 531.60,103.20 C533.20,104.52 534.28,106.10 535.60,107.90 C536.92,109.70 538.17,111.80 539.50,114.00 C540.83,116.20 542.27,118.58 543.60,121.10 C544.93,123.62 546.10,126.78 547.50,129.10 C548.90,131.42 550.45,133.57 552.00,135.00 C553.55,136.43 555.33,137.70 556.80,137.70 C558.27,137.70 559.58,135.88 560.80,135.00 C562.02,134.12 562.90,132.40 564.10,132.40 C565.30,132.40 566.57,133.78 568.00,135.00 C569.43,136.22 571.47,138.03 572.70,139.70 C573.93,141.37 574.50,143.45 575.40,145.00 C576.30,146.55 577.00,146.83 578.10,149.00 C579.20,151.17 580.30,155.32 582.00,158.00 C583.70,160.68 586.47,163.18 588.30,165.10 C590.13,167.02 591.23,168.05 593.00,169.50 C594.77,170.95 596.82,172.20 598.90,173.80 C600.98,175.40 603.48,177.57 605.50,179.10 C607.52,180.63 609.23,181.68 611.00,183.00 C612.77,184.32 614.37,185.45 616.10,187.00 C617.83,188.55 619.92,190.55 621.40,192.30 C622.88,194.05 623.57,195.73 625.00,197.50 C626.43,199.27 628.02,201.00 630.00,202.90 C631.98,204.80 634.90,207.30 636.90,208.90 C638.90,210.50 640.17,211.33 642.00,212.50 C643.83,213.67 645.93,214.18 647.90,215.90 C649.87,217.62 652.12,220.78 653.80,222.80 C655.48,224.82 656.67,226.33 658.00,228.00 C659.33,229.67 660.00,231.08 661.80,232.80 C663.60,234.52 666.77,236.85 668.80,238.30 C670.83,239.75 672.18,240.52 674.00,241.50 C675.82,242.48 678.20,243.78 679.70,244.20 C681.20,244.62 682.45,244.03 683.00,244.00" stroke="#7e2f8e" stroke-width="2.60" stroke-dasharray="10.8 11.0 10.8 4.3 10.8 8.7 10.8 9.9 10.8 9.1 10.8 10.6 10.8 13.3 10.8 5.8 10.8 10.6 10.8 10.9 10.8 9.0 10.8 11.0 10.8 11.0 10.8 10.6 10.8 10.4 10.8 10.9 10.8 11.4 10.8 10.1 10.8 10.8 10.8 11.0 10.8 10.4 10.8 8.8 10.8 1000.0" stroke-dashoffset="1.00"/>
</g>
<g stroke="#8d8d8d" stroke-width="1" fill="none">
<path d="M387.5,17.5 H683.4 V247.4 H387.5 Z"/>
<path d="M387.50,247.4 v-3 M387.50,17.5 v3"/>
<path d="M444.40,247.4 v-3 M444.40,17.5 v3"/>
<path d="M501.31,247.4 v-3 M501.31,17.5 v3"/>
<path d="M558.21,247.4 v-3 M558.21,17.5 v3"/>
<path d="M615.12,247.4 v-3 M615.12,17.5 v3"/>
<path d="M672.02,247.4 v-3 M672.02,17.5 v3"/>
<path d="M387.5,247.40 h3 M683.4,247.40 h-3"/>
<path d="M387.5,226.50 h3 M683.4,226.50 h-3"/>
<path d="M387.5,205.60 h3 M683.4,205.60 h-3"/>
<path d="M387.5,184.70 h3 M683.4,184.70 h-3"/>
<path d="M387.5,163.80 h3 M683.4,163.80 h-3"/>
<path d="M387.5,142.90 h3 M683.4,142.90 h-3"/>
<path d="M387.5,122.00 h3 M683.4,122.00 h-3"/>
<path d="M387.5,101.10 h3 M683.4,101.10 h-3"/>
<path d="M387.5,80.20 h3 M683.4,80.20 h-3"/>
<path d="M387.5,59.30 h3 M683.4,59.30 h-3"/>
<path d="M387.5,38.40 h3 M683.4,38.40 h-3"/>
<path d="M387.5,17.50 h3 M683.4,17.50 h-3"/>
</g>
<g font-family="Liberation Sans, sans-serif" font-size="9.7" fill="#262626">
<text transform="translate(387.50,261.80) scale(0.91,1)" text-anchor="middle">0</text>
<text transform="translate(444.40,261.80) scale(0.91,1)" text-anchor="middle">50</text>
<text transform="translate(501.31,261.80) scale(0.91,1)" text-anchor="middle">100</text>
<text transform="translate(558.21,261.80) scale(0.91,1)" text-anchor="middle">150</text>
<text transform="translate(615.12,261.80) scale(0.91,1)" text-anchor="middle">200</text>
<text transform="translate(672.02,261.80) scale(0.91,1)" text-anchor="middle">250</text>
<text transform="translate(383.30,251.70) scale(0.91,1)" text-anchor="end">0</text>
<text transform="translate(383.30,230.80) scale(0.91,1)" text-anchor="end">500</text>
<text transform="translate(383.30,209.90) scale(0.91,1)" text-anchor="end">1000</text>
<text transform="translate(383.30,189.00) scale(0.91,1)" text-anchor="end">1500</text>
<text transform="translate(383.30,168.10) scale(0.91,1)" text-anchor="end">2000</text>
<text transform="translate(383.30,147.20) scale(0.91,1)" text-anchor="end">2500</text>
<text transform="translate(383.30,126.30) scale(0.91,1)" text-anchor="end">3000</text>
<text transform="translate(383.30,105.40) scale(0.91,1)" text-anchor="end">3500</text>
<text transform="translate(383.30,84.50) scale(0.91,1)" text-anchor="end">4000</text>
<text transform="translate(383.30,63.60) scale(0.91,1)" text-anchor="end">4500</text>
<text transform="translate(383.30,42.70) scale(0.91,1)" text-anchor="end">5000</text>
<text transform="translate(383.30,21.80) scale(0.91,1)" text-anchor="end">5500</text>
</g>
<text x="538.0" y="12.5" font-family="Liberation Sans, sans-serif" font-size="15.7" font-weight="bold" text-anchor="middle" fill="#000">EBROG-260-2</text>
<text x="535.9" y="273.7" font-family="Liberation Sans, sans-serif" font-size="14.5" text-anchor="middle" fill="#262626" textLength="204.3" lengthAdjust="spacingAndGlyphs">Distance from loaded end (mm)</text>
<text transform="translate(356.8,135.2) rotate(-90)" font-family="Liberation Sans, sans-serif" font-size="14.6" text-anchor="middle" fill="#262626" textLength="67.5" lengthAdjust="spacingAndGlyphs">Strain (<tspan font-family="Liberation Serif, serif" font-style="italic">μϵ</tspan>)</text>
<text x="533.7" y="297.3" font-family="Liberation Serif, serif" font-size="20.2" text-anchor="middle" fill="#000">(b)</text>
<clipPath id="clipc"><rect x="216.6" y="323.6" width="299.6" height="232.9"/></clipPath>
<g clip-path="url(#clipc)" fill="none" stroke-linejoin="round">
<path id="ck" d="M218.70,369.60 C220.58,369.60 225.62,369.60 230.00,369.60 C234.38,369.60 240.00,369.60 245.00,369.60 C250.00,369.60 255.55,369.57 260.00,369.60 C264.45,369.63 268.87,369.53 271.70,369.80 C274.53,370.07 275.23,370.67 277.00,371.20 C278.77,371.73 280.53,372.48 282.30,373.00 C284.07,373.52 285.82,374.02 287.60,374.30 C289.38,374.58 290.78,374.52 293.00,374.70 C295.22,374.88 298.25,375.07 300.90,375.40 C303.55,375.73 306.25,376.27 308.90,376.70 C311.55,377.13 314.15,377.38 316.80,378.00 C319.45,378.62 322.58,379.50 324.80,380.40 C327.02,381.30 328.33,382.28 330.10,383.40 C331.87,384.52 333.42,385.90 335.40,387.10 C337.38,388.30 339.78,389.57 342.00,390.60 C344.22,391.63 346.48,392.30 348.70,393.30 C350.92,394.30 353.37,395.32 355.30,396.60 C357.23,397.88 358.58,399.45 360.30,401.00 C362.02,402.55 363.62,404.43 365.60,405.90 C367.58,407.37 369.98,408.58 372.20,409.80 C374.42,411.02 376.90,412.20 378.90,413.20 C380.90,414.20 382.43,414.48 384.20,415.80 C385.97,417.12 387.73,419.33 389.50,421.10 C391.27,422.87 392.82,424.42 394.80,426.40 C396.78,428.38 399.18,430.90 401.40,433.00 C403.62,435.10 405.88,436.90 408.10,439.00 C410.32,441.10 412.55,443.68 414.70,445.60 C416.85,447.52 418.87,448.68 421.00,450.50 C423.13,452.32 425.45,454.50 427.50,456.50 C429.55,458.50 431.23,460.28 433.30,462.50 C435.37,464.72 437.70,467.58 439.90,469.80 C442.10,472.02 444.28,474.02 446.50,475.80 C448.72,477.58 450.98,479.07 453.20,480.50 C455.42,481.93 457.60,483.30 459.80,484.40 C462.00,485.50 464.42,486.10 466.40,487.10 C468.38,488.10 469.93,488.85 471.70,490.40 C473.47,491.95 475.23,494.18 477.00,496.40 C478.77,498.62 480.53,501.05 482.30,503.70 C484.07,506.35 485.95,509.50 487.60,512.30 C489.25,515.10 490.48,517.82 492.20,520.50 C493.92,523.18 496.02,525.77 497.90,528.40 C499.78,531.03 501.62,533.67 503.50,536.30 C505.38,538.93 507.40,541.48 509.20,544.20 C511.00,546.92 513.45,551.20 514.30,552.60" stroke="#000000" stroke-width="2.60"/>
<path id="cr" d="M218.70,383.40 C219.00,379.83 219.73,368.87 220.50,362.00 C221.27,355.13 222.55,345.98 223.30,342.20 C224.05,338.42 224.38,339.33 225.00,339.30 C225.62,339.27 226.28,340.40 227.00,342.00 C227.72,343.60 228.58,346.43 229.30,348.90 C230.02,351.37 230.65,354.15 231.30,356.80 C231.95,359.45 232.43,362.15 233.20,364.80 C233.97,367.45 234.93,370.75 235.90,372.70 C236.87,374.65 238.00,375.83 239.00,376.50 C240.00,377.17 240.98,377.12 241.90,376.70 C242.82,376.28 243.62,375.32 244.50,374.00 C245.38,372.68 246.32,370.78 247.20,368.80 C248.08,366.82 249.03,364.32 249.80,362.10 C250.57,359.88 251.02,357.15 251.80,355.50 C252.58,353.85 253.63,352.62 254.50,352.20 C255.37,351.78 256.35,352.45 257.00,353.00 C257.65,353.55 257.72,354.20 258.40,355.50 C259.08,356.80 260.25,359.72 261.10,360.80 C261.95,361.88 262.83,361.88 263.50,362.00 C264.17,362.12 264.18,362.37 265.10,361.50 C266.02,360.63 267.68,358.38 269.00,356.80 C270.32,355.22 271.83,352.47 273.00,352.00 C274.17,351.53 275.12,353.17 276.00,354.00 C276.88,354.83 277.47,356.53 278.30,357.00 C279.13,357.47 279.88,357.17 281.00,356.80 C282.12,356.43 284.00,355.10 285.00,354.80 C286.00,354.50 286.33,354.13 287.00,355.00 C287.67,355.87 288.23,357.93 289.00,360.00 C289.77,362.07 290.72,365.05 291.60,367.40 C292.48,369.75 293.30,371.88 294.30,374.10 C295.30,376.32 296.28,378.60 297.60,380.70 C298.92,382.80 300.55,384.93 302.20,386.70 C303.85,388.47 305.72,391.20 307.50,391.30 C309.28,391.40 310.90,388.73 312.90,387.30 C314.90,385.87 317.52,384.02 319.50,382.70 C321.48,381.38 323.25,380.50 324.80,379.40 C326.35,378.30 327.60,376.83 328.80,376.10 C330.00,375.37 330.90,374.68 332.00,375.00 C333.10,375.32 334.17,376.38 335.40,378.00 C336.63,379.62 338.07,382.60 339.40,384.70 C340.73,386.80 341.85,388.72 343.40,390.60 C344.95,392.48 346.93,394.68 348.70,396.00 C350.47,397.32 352.23,397.95 354.00,398.50 C355.77,399.05 357.80,398.88 359.30,399.30 C360.80,399.72 361.72,400.13 363.00,401.00 C364.28,401.87 365.50,403.42 367.00,404.50 C368.50,405.58 370.25,406.62 372.00,407.50 C373.75,408.38 375.67,408.88 377.50,409.80 C379.33,410.72 381.22,411.88 383.00,413.00 C384.78,414.12 386.45,414.93 388.20,416.50 C389.95,418.07 391.52,420.08 393.50,422.40 C395.48,424.72 398.12,427.73 400.10,430.40 C402.08,433.07 403.85,436.52 405.40,438.40 C406.95,440.28 407.97,440.43 409.40,441.70 C410.83,442.97 412.57,444.53 414.00,446.00 C415.43,447.47 416.55,449.07 418.00,450.50 C419.45,451.93 420.60,453.03 422.70,454.60 C424.80,456.17 428.40,457.92 430.60,459.90 C432.80,461.88 434.33,464.48 435.90,466.50 C437.47,468.52 438.45,470.00 440.00,472.00 C441.55,474.00 443.53,476.92 445.20,478.50 C446.87,480.08 448.35,480.73 450.00,481.50 C451.65,482.27 453.60,482.35 455.10,483.10 C456.60,483.85 457.78,484.78 459.00,486.00 C460.22,487.22 461.17,488.57 462.40,490.40 C463.63,492.23 465.28,495.12 466.40,497.00 C467.52,498.88 468.00,499.70 469.10,501.70 C470.20,503.70 471.62,506.65 473.00,509.00 C474.38,511.35 475.98,513.72 477.40,515.80 C478.82,517.88 480.15,519.60 481.50,521.50 C482.85,523.40 484.27,525.30 485.50,527.20 C486.73,529.10 487.78,531.20 488.90,532.90 C490.02,534.60 491.02,535.88 492.20,537.40 C493.38,538.92 494.68,540.50 496.00,542.00 C497.32,543.50 498.65,545.00 500.10,546.40 C501.55,547.80 503.18,549.38 504.70,550.40 C506.22,551.42 508.15,552.00 509.20,552.50 C510.25,553.00 510.70,553.25 511.00,553.40" stroke="#ff0000" stroke-width="1.90" stroke-dasharray="5.7 5.2 5.7 4.1 5.7 7.0 5.7 5.8 5.7 5.5 5.7 4.8 5.7 4.7 5.7 5.3 5.7 5.3 5.7 5.6 5.7 5.5 5.7 5.6 5.7 4.4 5.7 5.3 5.7 4.3 5.7 5.3 5.7 5.6 5.7 4.7 5.7 6.2 5.7 3.9 5.7 5.1 5.7 5.9 5.7 4.9 5.7 5.3 5.7 4.6 5.7 4.3 5.7 6.0 5.7 6.1 5.7 4.0 5.7 5.0 5.7 5.9 5.7 5.1 5.7 5.1 5.7 4.9 5.7 5.2 5.7 5.6 5.7 4.5 5.7 5.1 5.7 5.4 5.7 4.8 5.7 4.6 5.7 4.6 5.7 7.0 5.7 5.6 5.7 5.6 5.7 1000.0" stroke-dashoffset="1.75"/>
<path id="cb" d="M218.70,367.40 C219.02,365.42 219.95,359.03 220.60,355.50 C221.25,351.97 221.93,348.63 222.60,346.20 C223.27,343.77 223.95,341.68 224.60,340.90 C225.25,340.12 225.72,340.83 226.50,341.50 C227.28,342.17 228.18,344.12 229.30,344.90 C230.42,345.68 231.43,346.25 233.20,346.20 C234.97,346.15 237.68,344.87 239.90,344.60 C242.12,344.33 244.30,344.22 246.50,344.60 C248.70,344.98 250.88,346.18 253.10,346.90 C255.32,347.62 257.80,348.35 259.80,348.90 C261.80,349.45 263.33,350.43 265.10,350.20 C266.87,349.97 268.85,348.72 270.40,347.50 C271.95,346.28 273.08,344.33 274.40,342.90 C275.72,341.47 277.20,339.78 278.30,338.90 C279.40,338.02 279.88,337.48 281.00,337.60 C282.12,337.72 283.78,338.60 285.00,339.60 C286.22,340.60 286.98,341.62 288.30,343.60 C289.62,345.58 291.90,349.73 292.90,351.50 C293.90,353.27 293.18,352.87 294.30,354.20 C295.42,355.53 297.98,359.03 299.60,359.50 C301.22,359.97 302.35,358.00 304.00,357.00 C305.65,356.00 308.00,353.50 309.50,353.50 C311.00,353.50 311.78,355.45 313.00,357.00 C314.22,358.55 315.50,360.83 316.80,362.80 C318.10,364.77 319.68,367.25 320.80,368.80 C321.92,370.35 322.47,371.98 323.50,372.10 C324.53,372.22 325.68,370.50 327.00,369.50 C328.32,368.50 329.78,367.00 331.40,366.10 C333.02,365.20 335.10,363.95 336.70,364.10 C338.30,364.25 339.45,365.78 341.00,367.00 C342.55,368.22 344.28,369.33 346.00,371.40 C347.72,373.47 349.75,376.97 351.30,379.40 C352.85,381.83 353.97,383.80 355.30,386.00 C356.63,388.20 358.25,390.50 359.30,392.60 C360.35,394.70 360.55,396.72 361.60,398.60 C362.65,400.48 364.28,403.25 365.60,403.90 C366.92,404.55 368.17,402.95 369.50,402.50 C370.83,402.05 371.82,400.87 373.60,401.20 C375.38,401.53 378.65,403.28 380.20,404.50 C381.75,405.72 381.77,406.42 382.90,408.50 C384.03,410.58 385.57,414.02 387.00,417.00 C388.43,419.98 390.25,423.90 391.50,426.40 C392.75,428.90 393.52,430.23 394.50,432.00 C395.48,433.77 396.07,435.75 397.40,437.00 C398.73,438.25 400.72,438.83 402.50,439.50 C404.28,440.17 406.52,440.33 408.10,441.00 C409.68,441.67 410.68,442.40 412.00,443.50 C413.32,444.60 414.67,445.80 416.00,447.60 C417.33,449.40 418.45,451.82 420.00,454.30 C421.55,456.78 423.75,460.02 425.30,462.50 C426.85,464.98 427.97,466.98 429.30,469.20 C430.63,471.42 431.75,473.60 433.30,475.80 C434.85,478.00 436.83,480.42 438.60,482.40 C440.37,484.38 442.35,486.25 443.90,487.70 C445.45,489.15 446.13,489.77 447.90,491.10 C449.67,492.43 452.73,494.38 454.50,495.70 C456.27,497.02 457.18,497.67 458.50,499.00 C459.82,500.33 461.15,502.28 462.40,503.70 C463.65,505.12 464.73,506.12 466.00,507.50 C467.27,508.88 468.60,510.62 470.00,512.00 C471.40,513.38 472.77,514.38 474.40,515.80 C476.03,517.22 478.15,518.60 479.80,520.50 C481.45,522.40 482.78,524.95 484.30,527.20 C485.82,529.45 487.58,531.92 488.90,534.00 C490.22,536.08 490.70,538.10 492.20,539.70 C493.70,541.30 496.20,542.28 497.90,543.60 C499.60,544.92 500.90,546.10 502.40,547.60 C503.90,549.10 505.97,551.63 506.90,552.60 C507.83,553.57 507.82,553.27 508.00,553.40" stroke="#0072bd" stroke-width="1.90" stroke-dasharray="5.7 5.1 5.7 5.1 5.7 8.0 5.7 3.7 5.7 5.4 5.7 5.1 5.7 5.6 5.7 4.8 5.7 5.6 5.7 5.0 5.7 4.6 5.7 5.5 5.7 4.9 5.7 5.3 5.7 3.8 5.7 6.0 5.7 5.1 5.7 5.3 5.7 4.9 5.7 5.2 5.7 6.7 5.7 5.2 5.7 5.2 5.7 5.2 5.7 5.2 5.7 5.7 5.7 3.6 5.7 7.0 5.7 4.7 5.7 5.2 5.7 5.2 5.7 4.3 5.7 6.2 5.7 5.0 5.7 5.1 5.7 6.3 5.7 2.5 5.7 7.9 5.7 2.9 5.7 6.7 5.7 1000.0" stroke-dashoffset="2.05"/>
<path id="cp" d="M218.40,382.00 C218.58,380.00 219.02,374.42 219.50,370.00 C219.98,365.58 220.72,359.50 221.30,355.50 C221.88,351.50 222.33,348.53 223.00,346.00 C223.67,343.47 224.48,340.93 225.30,340.30 C226.12,339.67 227.13,341.00 227.90,342.20 C228.67,343.40 229.22,345.62 229.90,347.50 C230.58,349.38 231.00,351.50 232.00,353.50 C233.00,355.50 234.58,358.28 235.90,359.50 C237.22,360.72 238.47,360.77 239.90,360.80 C241.33,360.83 243.18,360.25 244.50,359.70 C245.82,359.15 246.72,358.62 247.80,357.50 C248.88,356.38 249.88,354.33 251.00,353.00 C252.12,351.67 253.37,349.85 254.50,349.50 C255.63,349.15 256.58,350.02 257.80,350.90 C259.02,351.78 260.52,354.45 261.80,354.80 C263.08,355.15 264.07,353.88 265.50,353.00 C266.93,352.12 268.70,350.30 270.40,349.50 C272.10,348.70 274.05,348.42 275.70,348.20 C277.35,347.98 278.75,347.98 280.30,348.20 C281.85,348.42 283.55,348.83 285.00,349.50 C286.45,350.17 287.78,350.87 289.00,352.20 C290.22,353.53 291.05,355.12 292.30,357.50 C293.55,359.88 294.85,363.97 296.50,366.50 C298.15,369.03 300.37,371.67 302.20,372.70 C304.03,373.73 305.70,372.48 307.50,372.70 C309.30,372.92 311.00,373.55 313.00,374.00 C315.00,374.45 317.75,375.05 319.50,375.40 C321.25,375.75 322.18,376.22 323.50,376.10 C324.82,375.98 325.98,375.13 327.40,374.70 C328.82,374.27 330.23,373.72 332.00,373.50 C333.77,373.28 336.10,372.42 338.00,373.40 C339.90,374.38 341.73,377.47 343.40,379.40 C345.07,381.33 346.47,383.23 348.00,385.00 C349.53,386.77 350.93,388.40 352.60,390.00 C354.27,391.60 356.27,392.93 358.00,394.60 C359.73,396.27 361.28,398.35 363.00,400.00 C364.72,401.65 366.10,403.63 368.30,404.50 C370.50,405.37 374.08,404.45 376.20,405.20 C378.32,405.95 379.45,407.45 381.00,409.00 C382.55,410.55 383.87,412.48 385.50,414.50 C387.13,416.52 389.22,419.02 390.80,421.10 C392.38,423.18 393.67,425.02 395.00,427.00 C396.33,428.98 397.28,431.10 398.80,433.00 C400.32,434.90 402.33,437.07 404.10,438.40 C405.87,439.73 407.63,439.90 409.40,441.00 C411.17,442.10 413.15,443.45 414.70,445.00 C416.25,446.55 417.32,448.47 418.70,450.30 C420.08,452.13 421.45,453.85 423.00,456.00 C424.55,458.15 426.28,460.90 428.00,463.20 C429.72,465.50 431.80,467.83 433.30,469.80 C434.80,471.77 435.68,473.33 437.00,475.00 C438.32,476.67 439.38,477.90 441.20,479.80 C443.02,481.70 445.77,484.70 447.90,486.40 C450.03,488.10 452.02,488.90 454.00,490.00 C455.98,491.10 457.95,491.50 459.80,493.00 C461.65,494.50 463.57,497.00 465.10,499.00 C466.63,501.00 467.68,503.00 469.00,505.00 C470.32,507.00 471.42,508.80 473.00,511.00 C474.58,513.20 476.62,515.68 478.50,518.20 C480.38,520.72 482.38,523.28 484.30,526.10 C486.22,528.92 488.30,532.70 490.00,535.10 C491.70,537.50 493.00,538.80 494.50,540.50 C496.00,542.20 497.50,543.83 499.00,545.30 C500.50,546.77 502.00,548.17 503.50,549.30 C505.00,550.43 506.30,551.45 508.00,552.10 C509.70,552.75 512.75,553.02 513.70,553.20" stroke="#7e2f8e" stroke-width="2.60" stroke-dasharray="10.8 10.8 10.8 10.1 10.8 12.2 10.8 11.0 10.8 8.7 10.8 9.8 10.8 10.5 10.8 9.6 10.8 8.6 10.8 10.9 10.8 10.7 10.8 11.5 10.8 11.4 10.8 10.4 10.8 11.2 10.8 10.7 10.8 11.4 10.8 12.1 10.8 10.2 10.8 10.4 10.8 1000.0" stroke-dashoffset="-0.30"/>
</g>
<g stroke="#8d8d8d" stroke-width="1" fill="none">
<path d="M218.6,323.6 H514.2 V553.5 H218.6 Z"/>
<path d="M218.60,553.5 v-3 M218.60,323.6 v3"/>
<path d="M275.45,553.5 v-3 M275.45,323.6 v3"/>
<path d="M332.29,553.5 v-3 M332.29,323.6 v3"/>
<path d="M389.14,553.5 v-3 M389.14,323.6 v3"/>
<path d="M445.98,553.5 v-3 M445.98,323.6 v3"/>
<path d="M502.83,553.5 v-3 M502.83,323.6 v3"/>
<path d="M218.6,553.50 h3 M514.2,553.50 h-3"/>
<path d="M218.6,530.51 h3 M514.2,530.51 h-3"/>
<path d="M218.6,507.52 h3 M514.2,507.52 h-3"/>
<path d="M218.6,484.53 h3 M514.2,484.53 h-3"/>
<path d="M218.6,461.54 h3 M514.2,461.54 h-3"/>
<path d="M218.6,438.55 h3 M514.2,438.55 h-3"/>
<path d="M218.6,415.56 h3 M514.2,415.56 h-3"/>
<path d="M218.6,392.57 h3 M514.2,392.57 h-3"/>
<path d="M218.6,369.58 h3 M514.2,369.58 h-3"/>
<path d="M218.6,346.59 h3 M514.2,346.59 h-3"/>
<path d="M218.6,323.60 h3 M514.2,323.60 h-3"/>
</g>
<g font-family="Liberation Sans, sans-serif" font-size="9.7" fill="#262626">
<text transform="translate(218.60,567.90) scale(0.91,1)" text-anchor="middle">0</text>
<text transform="translate(275.45,567.90) scale(0.91,1)" text-anchor="middle">50</text>
<text transform="translate(332.29,567.90) scale(0.91,1)" text-anchor="middle">100</text>
<text transform="translate(389.14,567.90) scale(0.91,1)" text-anchor="middle">150</text>
<text transform="translate(445.98,567.90) scale(0.91,1)" text-anchor="middle">200</text>
<text transform="translate(502.83,567.90) scale(0.91,1)" text-anchor="middle">250</text>
<text transform="translate(214.40,557.80) scale(0.91,1)" text-anchor="end">0</text>
<text transform="translate(214.40,534.81) scale(0.91,1)" text-anchor="end">500</text>
<text transform="translate(214.40,511.82) scale(0.91,1)" text-anchor="end">1000</text>
<text transform="translate(214.40,488.83) scale(0.91,1)" text-anchor="end">1500</text>
<text transform="translate(214.40,465.84) scale(0.91,1)" text-anchor="end">2000</text>
<text transform="translate(214.40,442.85) scale(0.91,1)" text-anchor="end">2500</text>
<text transform="translate(214.40,419.86) scale(0.91,1)" text-anchor="end">3000</text>
<text transform="translate(214.40,396.87) scale(0.91,1)" text-anchor="end">3500</text>
<text transform="translate(214.40,373.88) scale(0.91,1)" text-anchor="end">4000</text>
<text transform="translate(214.40,350.89) scale(0.91,1)" text-anchor="end">4500</text>
<text transform="translate(214.40,327.90) scale(0.91,1)" text-anchor="end">5000</text>
</g>
<text x="368.9" y="317.6" font-family="Liberation Sans, sans-serif" font-size="15.7" font-weight="bold" text-anchor="middle" fill="#000">EBROG-260-3</text>
<text x="366.7" y="578.0" font-family="Liberation Sans, sans-serif" font-size="14.5" text-anchor="middle" fill="#262626" textLength="204.5" lengthAdjust="spacingAndGlyphs">Distance from loaded end (mm)</text>
<text transform="translate(186.1,430.1) rotate(-90)" font-family="Liberation Sans, sans-serif" font-size="14.6" text-anchor="middle" fill="#262626" textLength="67.5" lengthAdjust="spacingAndGlyphs">Strain (<tspan font-family="Liberation Serif, serif" font-style="italic">μϵ</tspan>)</text>
<text x="357.3" y="598.3" font-family="Liberation Serif, serif" font-size="20.2" text-anchor="middle" fill="#000">(c)</text>
<rect x="51.5" y="180.5" width="209.2" height="63.0" fill="#fff" stroke="#8d8d8d" stroke-width="1"/>
<path d="M54.1,189.30 H81.5" stroke="#000000" stroke-width="2.60" fill="none"/>
<text x="84.2" y="193.50" font-family="Liberation Sans, sans-serif" font-size="11.8" fill="#000" xml:space="preserve">Predicted by TLBO method</text>
<path d="M54.1,204.57 H81.5" stroke="#ff0000" stroke-width="1.90" stroke-dasharray="5.7 5.3" fill="none"/>
<text x="84.2" y="208.77" font-family="Liberation Sans, sans-serif" font-size="11.8" fill="#000" xml:space="preserve">Experimental result by DIC (left)</text>
<path d="M54.1,219.84 H81.5" stroke="#0072bd" stroke-width="1.90" stroke-dasharray="5.7 5.3" fill="none"/>
<text x="84.2" y="224.04" font-family="Liberation Sans, sans-serif" font-size="11.8" fill="#000" xml:space="preserve">Experimental result by DIC (right)</text>
<path d="M54.1,235.11 H81.5" stroke="#7e2f8e" stroke-width="2.60" stroke-dasharray="11 11" fill="none"/>
<text x="84.2" y="239.31" font-family="Liberation Sans, sans-serif" font-size="11.8" fill="#000" xml:space="preserve"> Average of (left &amp; right)</text>
<rect x="389.7" y="182.5" width="209.3" height="62.8" fill="#fff" stroke="#8d8d8d" stroke-width="1"/>
<path d="M392.3,191.30 H419.7" stroke="#000000" stroke-width="2.60" fill="none"/>
<text x="422.4" y="195.50" font-family="Liberation Sans, sans-serif" font-size="11.8" fill="#000" xml:space="preserve">Predicted by TLBO method</text>
<path d="M392.3,206.57 H419.7" stroke="#ff0000" stroke-width="1.90" stroke-dasharray="5.7 5.3" fill="none"/>
<text x="422.4" y="210.77" font-family="Liberation Sans, sans-serif" font-size="11.8" fill="#000" xml:space="preserve">Experimental result by DIC (left)</text>
<path d="M392.3,221.84 H419.7" stroke="#0072bd" stroke-width="1.90" stroke-dasharray="5.7 5.3" fill="none"/>
<text x="422.4" y="226.04" font-family="Liberation Sans, sans-serif" font-size="11.8" fill="#000" xml:space="preserve">Experimental result by DIC (right)</text>
<path d="M392.3,237.11 H419.7" stroke="#7e2f8e" stroke-width="2.60" stroke-dasharray="11 11" fill="none"/>
<text x="422.4" y="241.31" font-family="Liberation Sans, sans-serif" font-size="11.8" fill="#000" xml:space="preserve">Average of (left &amp; right)</text>
<rect x="226.7" y="484.6" width="209.7" height="63.7" fill="#fff" stroke="#8d8d8d" stroke-width="1"/>
<path d="M229.3,493.40 H256.7" stroke="#000000" stroke-width="2.60" fill="none"/>
<text x="259.4" y="497.60" font-family="Liberation Sans, sans-serif" font-size="11.8" fill="#000" xml:space="preserve">Predicted by TLBO method</text>
<path d="M229.3,508.67 H256.7" stroke="#ff0000" stroke-width="1.90" stroke-dasharray="5.7 5.3" fill="none"/>
<text x="259.4" y="512.87" font-family="Liberation Sans, sans-serif" font-size="11.8" fill="#000" xml:space="preserve">Experimental result by DIC (left)</text>
<path d="M229.3,523.94 H256.7" stroke="#0072bd" stroke-width="1.90" stroke-dasharray="5.7 5.3" fill="none"/>
<text x="259.4" y="528.14" font-family="Liberation Sans, sans-serif" font-size="11.8" fill="#000" xml:space="preserve">Experimental result by DIC (right)</text>
<path d="M229.3,539.21 H256.7" stroke="#7e2f8e" stroke-width="2.60" stroke-dasharray="11 11" fill="none"/>
<text x="259.4" y="543.41" font-family="Liberation Sans, sans-serif" font-size="11.8" fill="#000" xml:space="preserve">Average of (left &amp; right)</text>
</svg></body></html>
